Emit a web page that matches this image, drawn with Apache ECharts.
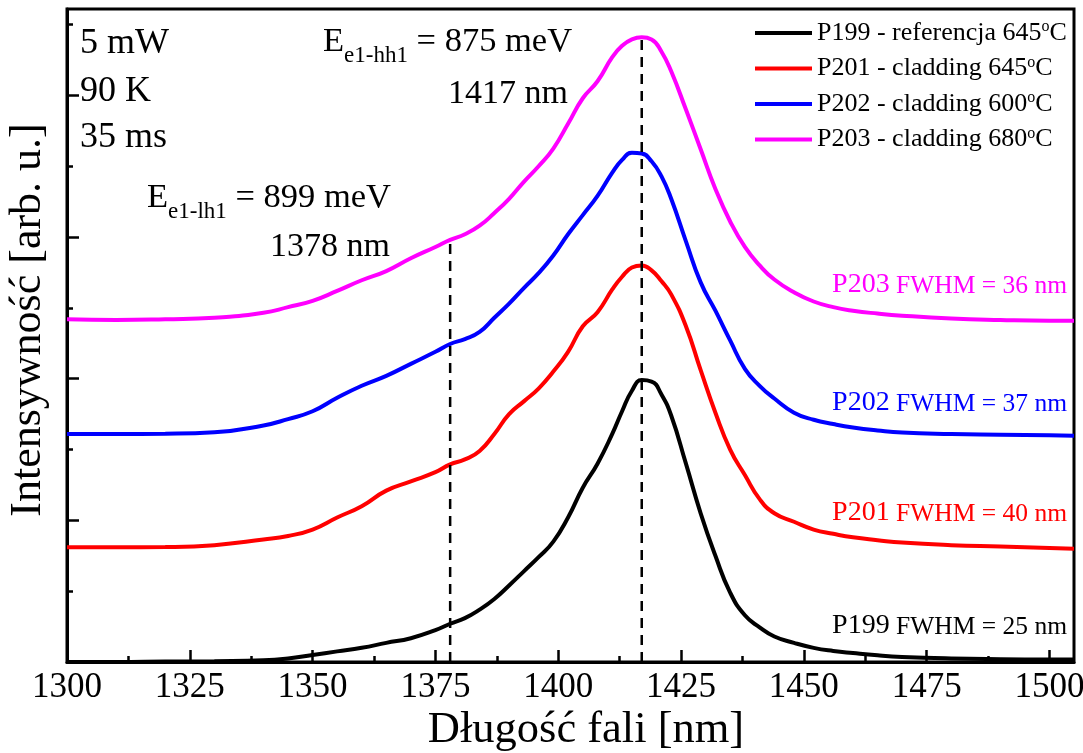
<!DOCTYPE html>
<html>
<head>
<meta charset="utf-8">
<title>Widma PL</title>
<script src="https://cdn.jsdelivr.net/npm/echarts@6/dist/echarts.min.js"></script>
<style>
  html, body { margin: 0; padding: 0; background: #fff; }
  #chart { width: 1083px; height: 753px; }
</style>
</head>
<body>
<div id="chart"></div>
<script>
// Wavelength grid [nm] shared by all spectra
const wavelength = [1300, 1310, 1320, 1330, 1340, 1345, 1350, 1355, 1360, 1365,
  1370, 1375, 1378, 1381, 1384, 1387, 1390, 1393, 1396, 1399,
  1402, 1405, 1408, 1411, 1413, 1415, 1417, 1419, 1421, 1423,
  1426, 1429, 1432, 1435, 1438, 1441, 1444, 1448, 1452, 1456,
  1460, 1465, 1470, 1480, 1490, 1500, 1505];

// PL intensity (arb. u., spectra stacked with an offset)
const p199 = [0.0, 0.0, 0.003, 0.006, 0.012, 0.025, 0.05, 0.075, 0.10, 0.135,
  0.168, 0.225, 0.27, 0.31, 0.37, 0.445, 0.54, 0.64, 0.74, 0.85,
  1.02, 1.23, 1.40, 1.61, 1.77, 1.915, 1.99, 1.98, 1.89, 1.74,
  1.40, 1.05, 0.75, 0.49, 0.33, 0.245, 0.18, 0.135, 0.10, 0.078,
  0.063, 0.047, 0.036, 0.025, 0.02, 0.018, 0.018];
const p201 = [0.81, 0.81, 0.812, 0.825, 0.865, 0.89, 0.935, 1.02, 1.10, 1.21,
  1.275, 1.34, 1.395, 1.43, 1.49, 1.61, 1.75, 1.84, 1.93, 2.05,
  2.19, 2.37, 2.47, 2.63, 2.72, 2.785, 2.80, 2.765, 2.69, 2.595,
  2.37, 2.06, 1.76, 1.50, 1.32, 1.15, 1.05, 0.99, 0.935, 0.905,
  0.88, 0.86, 0.843, 0.825, 0.815, 0.805, 0.80];
const p202 = [1.61, 1.61, 1.612, 1.622, 1.67, 1.715, 1.77, 1.865, 1.95, 2.02,
  2.105, 2.19, 2.245, 2.28, 2.33, 2.43, 2.53, 2.64, 2.745, 2.87,
  3.02, 3.155, 3.29, 3.455, 3.545, 3.595, 3.59, 3.535, 3.43, 3.27,
  2.97, 2.68, 2.48, 2.27, 2.07, 1.95, 1.86, 1.76, 1.71, 1.68,
  1.656, 1.635, 1.62, 1.61, 1.605, 1.60, 1.597];
const p203 = [2.42, 2.415, 2.42, 2.43, 2.465, 2.505, 2.55, 2.62, 2.695, 2.76,
  2.85, 2.93, 2.98, 3.02, 3.08, 3.17, 3.27, 3.39, 3.50, 3.625,
  3.80, 3.98, 4.10, 4.27, 4.35, 4.395, 4.41, 4.395, 4.31, 4.17,
  3.90, 3.62, 3.34, 3.11, 2.93, 2.80, 2.70, 2.61, 2.545, 2.505,
  2.48, 2.46, 2.445, 2.425, 2.415, 2.41, 2.41];

const seriesNames = ['P199 - referencja 645°C', 'P201 - cladding 645°C',
  'P202 - cladding 600°C', 'P203 - cladding 680°C'];
const seriesColors = ['#000000', '#ff0000', '#0000ff', '#ff00ff'];
const seriesValues = [p199, p201, p202, p203];

// FWHM annotations (sample, width in nm)
const fwhmSamples = ['P199', 'P201', 'P202', 'P203'];
const fwhmValues = [25, 40, 37, 36];

// Transition markers: wavelength [nm] and height of the dashed guide
const markerWavelengths = [1378, 1417];
const markerTops = [2.98, 4.41];

// Axis ticks
const xMajorTicks = [1300, 1325, 1350, 1375, 1400, 1425, 1450, 1475, 1500];
const xMinorTicks = [1312.5, 1337.5, 1362.5, 1387.5, 1412.5, 1437.5, 1462.5, 1487.5];
const yMajorTicks = [0, 1, 2, 3, 4];
const yMinorTicks = [0.5, 1.5, 2.5, 3.5, 4.5];

const FONT = '"Liberation Serif", "Times New Roman", serif';

const chart = echarts.init(document.getElementById('chart'), null, { renderer: 'canvas' });

const lineSeries = seriesNames.map((name, i) => ({
  name,
  type: 'line',
  xAxisIndex: 0,
  yAxisIndex: 0,
  data: wavelength.map((w, k) => [w, seriesValues[i][k]]),
  smooth: 0.5,
  symbol: 'none',
  color: seriesColors[i],
  lineStyle: { color: seriesColors[i], width: 4 },
  z: 3 + i
}));

const markerSeries = markerWavelengths.map((w, i) => ({
  name: 'marker' + i,
  type: 'line',
  xAxisIndex: 0,
  yAxisIndex: 0,
  data: [[w, 0], [w, markerTops[i]]],
  symbol: 'none',
  silent: true,
  lineStyle: { color: '#000', width: 2.5, type: [10, 7] },
  z: 10
}));

const fwhmLabelY = { P199: 626, P201: 513, P202: 403, P203: 285 };
const fwhmGraphics = fwhmSamples.map((s, i) => ({
  type: 'text',
  x: 1067,
  y: fwhmLabelY[s],
  z: 20,
  style: {
    text: '{a|' + s + '}{b| FWHM = ' + fwhmValues[i] + ' nm}',
    align: 'right',
    verticalAlign: 'middle',
    fill: seriesColors[i],
    rich: {
      a: { fontSize: 28, fontFamily: FONT, fill: seriesColors[i], lineHeight: 32 },
      b: { fontSize: 25.5, fontFamily: FONT, fill: seriesColors[i], lineHeight: 32, padding: [2, 0, 0, 0] }
    }
  }
}));

function plainText(text, x, y, align, size, rotation) {
  return {
    type: 'text', x, y, z: 20, rotation: rotation || 0,
    style: { text, align, verticalAlign: 'middle', fill: '#000', fontSize: size, fontFamily: FONT }
  };
}

function transitionText(sub, value, x, y) {
  return {
    type: 'text', x, y, z: 20,
    style: {
      text: '{m|E}{s|' + sub + '}{m| = ' + value + ' meV}',
      align: 'left',
      verticalAlign: 'middle',
      fill: '#000',
      rich: {
        m: { fontSize: 34.5, fontFamily: FONT, fill: '#000', lineHeight: 40 },
        s: { fontSize: 23, fontFamily: FONT, fill: '#000', lineHeight: 40, padding: [27, 0, 0, 0] }
      }
    }
  };
}

const option = {
  animation: false,
  backgroundColor: '#ffffff',
  grid: {
    left: 67, right: 9, top: 9, bottom: 91,
    outerBoundsMode: 'none',
    containLabel: false,
    show: true, borderColor: '#000', borderWidth: 3, backgroundColor: 'transparent'
  },
  legend: {
    data: seriesNames,
    orient: 'vertical',
    left: 755,
    top: 19,
    padding: 0,
    itemWidth: 57,
    itemHeight: 4,
    itemGap: 7.5,
    icon: 'rect',
    selectedMode: false,
    formatter: (name) => '{t|' + name.replace('°', '}{sup|o}{t|') + '}',
    textStyle: {
      color: '#000',
      fontSize: 26,
      fontFamily: FONT,
      lineHeight: 28,
      rich: {
        t: { fontSize: 26, fontFamily: FONT, color: '#000', lineHeight: 28 },
        sup: { fontSize: 16, fontFamily: FONT, color: '#000', lineHeight: 28, padding: [0, 0, 12, 0] }
      }
    }
  },
  xAxis: [
    {
      type: 'value',
      min: 1300, max: 1505,
      position: 'bottom',
      axisLine: { show: true, lineStyle: { color: '#000', width: 3 } },
      axisTick: { show: true, inside: true, length: 12, customValues: xMajorTicks,
        lineStyle: { color: '#000', width: 2.5 } },
      axisLabel: { show: true, customValues: xMajorTicks, margin: 8,
        formatter: (v) => String(v),
        color: '#000', fontSize: 35, fontFamily: FONT },
      splitLine: { show: false }
    },
    {
      type: 'value',
      min: 1300, max: 1505,
      position: 'bottom',
      axisLine: { show: false },
      axisTick: { show: true, inside: true, length: 6, customValues: xMinorTicks,
        lineStyle: { color: '#000', width: 2.5 } },
      axisLabel: { show: false },
      splitLine: { show: false }
    }
  ],
  yAxis: [
    {
      type: 'value',
      min: 0, max: 4.61,
      position: 'left',
      axisLine: { show: true, lineStyle: { color: '#000', width: 3 } },
      axisTick: { show: true, inside: true, length: 12, customValues: yMajorTicks,
        lineStyle: { color: '#000', width: 2.5 } },
      axisLabel: { show: false },
      splitLine: { show: false }
    },
    {
      type: 'value',
      min: 0, max: 4.61,
      position: 'left',
      axisLine: { show: false },
      axisTick: { show: true, inside: true, length: 6, customValues: yMinorTicks,
        lineStyle: { color: '#000', width: 2.5 } },
      axisLabel: { show: false },
      splitLine: { show: false }
    }
  ],
  series: lineSeries.concat(markerSeries),
  graphic: [
    // axis titles
    plainText('Długość fali [nm]', 586, 730, 'center', 44.5),
    plainText('Intensywność [arb. u.]', 28.5, 320, 'center', 44, Math.PI / 2),
    // measurement conditions
    plainText('5 mW', 80, 44, 'left', 36),
    plainText('90 K', 80, 92, 'left', 36),
    plainText('35 ms', 80, 138, 'left', 36),
    // transition energies
    transitionText('e1-hh1', 875, 323, 42),
    plainText(markerWavelengths[1] + ' nm', 568, 94, 'right', 34),
    transitionText('e1-lh1', 899, 147, 198),
    plainText(markerWavelengths[0] + ' nm', 390, 247, 'right', 34)
  ].concat(fwhmGraphics)
};

chart.setOption(option);
</script>
</body>
</html>
